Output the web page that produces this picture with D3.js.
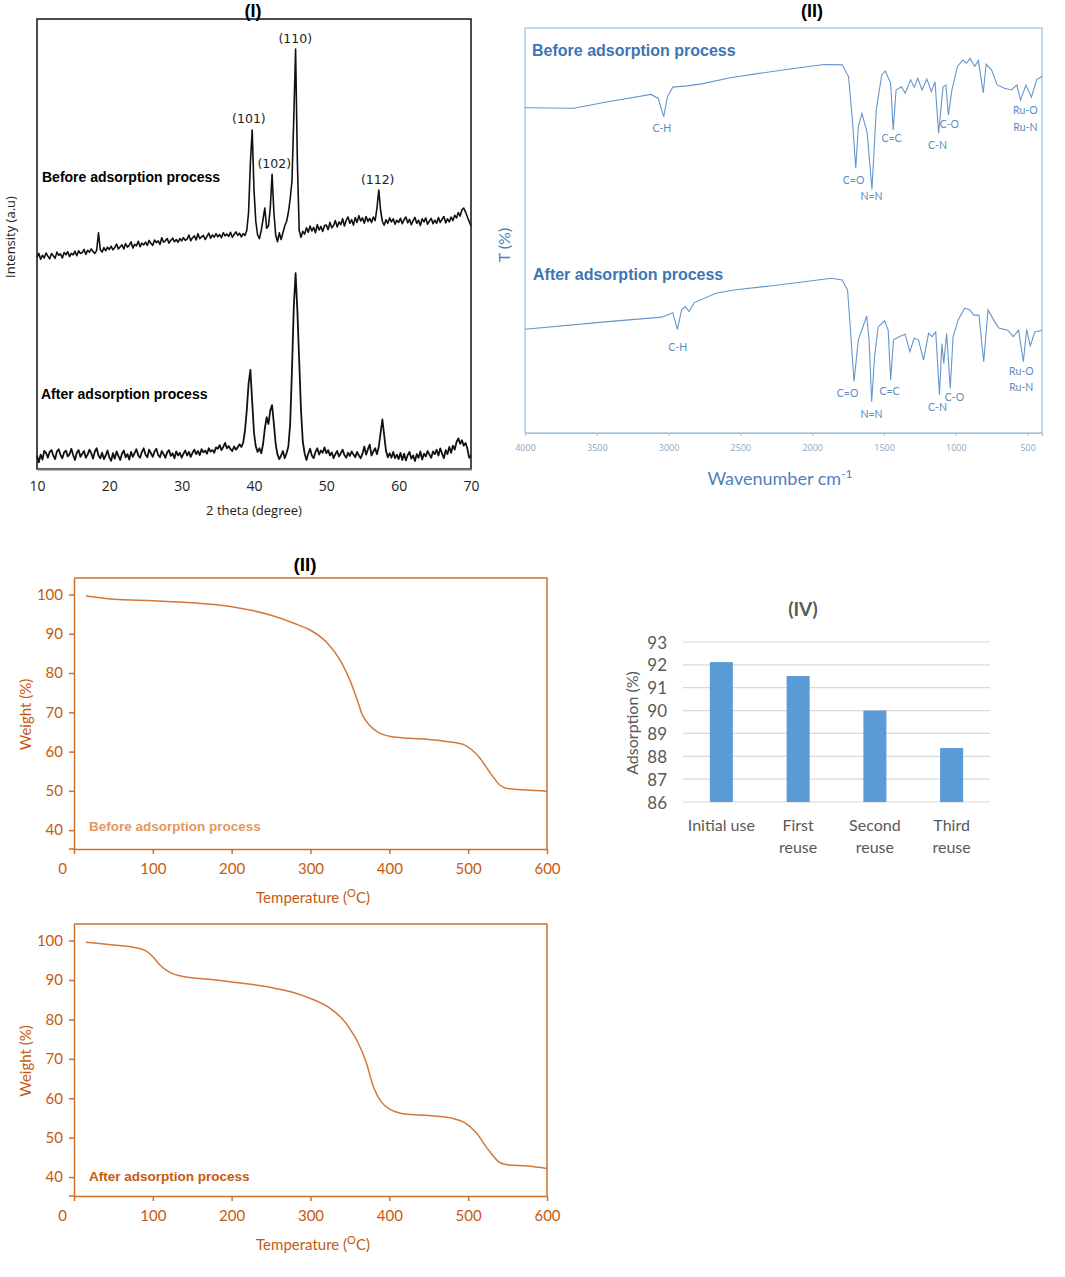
<!DOCTYPE html>
<html lang="en">
<head>
<meta charset="UTF-8">
<title>Characterisation panels</title>
<script src="https://cdnjs.cloudflare.com/ajax/libs/d3/7.8.5/d3.min.js"></script>
<style>
  body { margin: 0; background: #fff; }
  svg text { font-family: "Open Sans", sans-serif; }
</style>
</head>
<body>
<div id="root"></div>
<script>
// ---------- (I) XRD, 2 theta grid every 0.25 degree from 10 to 70 ----------
const xrdTheta = d3.range(241).map(i => 10 + i * 0.25)
const xrdBefore = [
  47.0,47.9,46.6,47.5,46.9,48.0,47.3,46.7,47.9,47.4,46.8,48.2,47.5,47.8,46.9,48.1,47.6,48.3,47.2,47.9,
  47.6,48.4,47.4,48.5,47.9,48.1,48.8,47.7,48.6,48.2,48.9,48.3,47.9,48.6,52.5,48.7,48.2,49.2,48.5,49.3,
  48.8,49.5,48.7,49.2,50.0,48.9,49.4,49.8,48.9,50.1,49.3,49.7,50.5,49.1,49.9,49.6,50.6,49.4,50.2,49.8,
  50.4,49.7,50.8,50.1,49.7,50.9,50.3,50.7,49.9,51.4,50.4,50.7,51.2,50.2,50.8,51.3,50.5,51.0,50.4,51.2,
  50.7,51.4,50.8,51.1,52.0,50.7,51.4,51.8,50.9,52.3,51.2,51.6,51.9,51.0,51.7,52.4,51.3,52.0,51.5,52.3,
  51.6,52.1,51.4,52.5,51.8,52.2,51.7,52.6,51.5,52.1,52.7,51.9,52.4,51.6,52.3,51.9,53.0,57.0,68.0,75.3,
  62.0,55.0,52.0,51.2,53.0,55.5,58.0,53.5,54.0,58.0,65.5,57.0,52.0,50.5,52.5,51.0,52.5,54.0,55.0,57.0,
  60.0,64.0,78.0,93.3,68.0,53.0,51.5,52.8,52.2,53.6,52.6,54.0,52.9,53.7,52.5,54.3,53.1,53.9,52.8,54.1,
  54.2,53.2,54.8,53.6,54.1,55.2,53.8,54.9,54.3,55.6,54.0,55.3,56.0,54.6,55.4,54.2,55.9,54.8,56.3,55.1,
  55.8,54.6,56.1,55.0,55.7,54.8,56.0,55.2,58.0,62.0,57.5,55.0,54.2,55.4,54.6,55.8,54.9,55.6,54.4,55.3,
  54.8,55.7,54.5,55.4,56.0,54.7,55.5,54.3,55.2,55.9,54.6,55.3,54.1,55.6,54.9,55.8,54.4,55.1,55.7,54.5,
  55.3,54.6,55.9,54.8,55.5,56.1,54.7,55.6,54.9,56.0,55.2,56.4,55.8,57.0,56.2,57.6,58.0,57.1,56.0,55.0,
  54.0
]
const xrdAfter = [
  3.0,1.5,3.2,2.1,4.0,3.6,2.5,3.8,4.2,3.0,2.2,3.9,4.4,3.1,2.4,3.7,4.1,2.8,3.3,4.5,
  3.1,2.0,3.6,4.2,2.7,3.4,4.0,2.5,3.2,4.3,3.5,2.3,3.9,4.6,3.0,2.4,3.6,2.2,3.0,4.1,
  2.6,1.8,3.5,2.3,3.9,2.9,2.0,3.4,4.1,2.6,3.3,2.1,3.8,2.7,3.6,4.4,3.0,2.5,3.8,4.6,
  3.2,2.6,4.3,3.5,2.7,3.9,4.5,3.1,2.6,4.0,3.3,2.5,3.7,4.2,2.9,3.5,2.4,3.9,3.0,3.6,
  2.5,3.4,4.1,3.0,3.8,2.7,3.6,4.3,3.3,4.0,3.1,4.4,3.7,4.1,3.4,4.6,3.9,4.2,3.6,4.8,
  4.5,5.3,4.2,4.9,5.8,4.6,5.1,4.4,4.0,5.0,4.3,4.8,5.5,4.9,5.8,8.5,13.0,19.0,22.0,15.0,
  8.0,5.0,3.8,4.6,3.5,5.5,9.0,11.5,10.0,13.0,14.2,10.0,5.5,3.2,2.2,3.0,4.0,2.4,3.5,5.0,
  10.0,22.0,36.0,43.5,35.0,24.0,13.0,6.0,3.5,2.0,3.4,4.5,3.0,2.4,3.8,4.6,3.2,4.1,3.6,4.8,
  3.5,4.2,3.0,3.7,2.4,3.3,4.0,2.8,3.5,4.3,3.1,2.5,3.6,2.9,3.9,3.2,2.6,3.8,3.0,2.4,
  3.4,5.0,3.2,4.4,5.4,3.0,3.9,4.6,3.3,5.0,8.0,11.0,7.5,4.0,2.6,3.5,2.5,3.8,2.4,3.2,
  2.2,3.6,2.0,3.4,1.9,3.1,3.8,2.3,3.0,1.8,3.3,2.5,3.9,2.1,3.4,2.8,4.0,3.2,2.5,3.9,
  3.3,4.3,3.0,4.6,3.4,2.4,4.2,3.3,4.9,3.6,5.2,4.3,6.0,6.8,5.6,6.4,5.2,5.8,4.5,2.5,
  3.0
]
const xrdTicks = [10, 20, 30, 40, 50, 60, 70]
const xrdPeakText = ['(101)', '(102)', '(110)', '(112)']
const xrdPeakTheta = [39.3, 42.8, 45.7, 57.1]
const xrdPeakValue = [78, 68, 95.6, 64.4]

// ---------- (II) FTIR ----------
const ftirBeforeWn = [4000,3661,3423,3122,3072,3034,3009,2971,2871,2771,2570,2369,2168,1917,1792,1747,1722,1697,1679,1654,
  1617,1584,1554,1516,1491,1454,1436,1416,1378,1353,1315,1290,1265,1235,1202,1170,1145,1120,1089,1069,
  1052,1027,989,951,926,901,869,843,809,789,751,713,663,613,575,550,512,474,437,400]
const ftirBeforeT = [80.3,80.2,81.8,83.6,82.6,78.1,83.0,85.4,85.7,86.2,87.7,88.8,89.8,91.0,90.9,88.0,78.1,65.4,75.6,78.9,
  74.1,60.2,79.8,88.4,89.4,86.4,74.8,84.7,85.5,83.9,87.2,85.4,87.6,84.7,87.4,84.3,86.7,74.0,85.5,85.9,
  78.5,84.7,90.5,92.1,91.3,92.5,90.5,92.0,84.0,91.1,89.6,86.0,85.1,84.7,85.9,82.2,85.9,82.9,87.2,88.1]
const ftirAfterWn = [4000,3423,3047,2971,2939,2909,2884,2858,2821,2670,2545,2294,2043,1867,1792,1754,1737,1709,1679,1621,
  1604,1586,1566,1541,1496,1471,1454,1434,1391,1353,1320,1290,1260,1225,1190,1165,1140,1114,1097,1084,
  1064,1039,1019,984,939,901,876,839,806,776,743,701,638,600,563,530,507,482,449,400]
const ftirAfterT = [25.6,27.5,28.6,29.7,25.6,30.4,31.2,30.0,32.2,34.5,35.3,36.3,37.4,38.2,37.8,35.3,27.1,12.7,23.0,28.9,
  23.0,7.7,18.8,26.2,27.7,25.4,13.1,23.0,23.8,24.4,20.1,23.4,23.0,18.0,24.6,23.8,25.0,9.4,22.1,17.2,
  24.6,11.0,23.8,27.9,30.8,30.4,29.1,29.1,17.6,30.4,28.3,25.9,25.4,23.8,25.4,17.6,25.6,21.5,25.0,25.3]
const ftirTicks = [4000, 3500, 3000, 2500, 2000, 1500, 1000, 500]
const bandText = ['C-H', 'C=O', 'N=N', 'C=C', 'C-N', 'C-O', 'Ru-O', 'Ru-N']
const bandBeforeWn = [3047, 1712, 1587, 1448, 1128, 1045, 516, 516]
const bandBeforeT = [75.3, 62.5, 58.5, 72.8, 71.1, 76.3, 79.8, 75.6]
const bandAfterWn = [2936, 1754, 1587, 1462, 1128, 1010, 544, 544]
const bandAfterT = [21.2, 9.9, 4.7, 10.4, 6.4, 8.9, 15.3, 11.4]

// ---------- (II) TGA ----------
const tgaBeforeTemp = [15,50,100,150,200,250,280,300,320,340,350,360,365,375,385,400,425,450,475,495,505,515,530,540,550,575,600]
const tgaBeforeWeight = [99.6,98.8,98.4,97.9,96.9,94.7,92.6,90.9,87.9,82.4,78.2,72.7,69.7,66.7,65.0,63.9,63.4,63.1,62.5,61.7,
  60.4,58.3,54.0,51.5,50.6,50.2,49.9]
const tgaAfterTemp = [15,50,75,90,100,110,120,140,175,200,250,275,300,325,340,350,360,370,380,390,400,420,450,480,495,510,525,540,550,575,600]
const tgaAfterWeight = [99.6,98.9,98.3,97.5,95.9,93.6,92.1,90.8,90.1,89.5,88.1,87.0,85.3,82.8,80.2,77.6,74.2,69.5,62.8,59.0,
  57.3,56.0,55.6,54.9,53.9,51.3,47.1,43.7,43.1,42.8,42.2]
const tgaTempTicks = [0, 100, 200, 300, 400, 500, 600]
const tgaWeightTicks = [40, 50, 60, 70, 80, 90, 100]

// ---------- (IV) reuse ----------
const reuseCats = ['Initial use', 'First reuse', 'Second reuse', 'Third reuse']
const reuseLines = [['Initial use'], ['First', 'reuse'], ['Second', 'reuse'], ['Third', 'reuse']]
const reuseValues = [92.12, 91.51, 90.0, 88.36]

const svg = d3.select('#root')
  .append('svg')
  .attr('width', 1065)
  .attr('height', 1277)
  .style('background', '#fff')

// ===== panel I =====
const xX = d3.scaleLinear().domain([10, 70]).range([37, 471])
const xY = d3.scaleLinear().domain([0, 100]).range([469, 19])
const xrd = svg.append('g')

xrd.append('text').attr('x', 253).attr('y', 17).attr('text-anchor', 'middle')
  .style('font-family', '"Liberation Sans", Arial, sans-serif').style('font-weight', 'bold').style('font-size', '18px')
  .text('(I)')

const xrdLine = d3.line().x((d, i) => xX(xrdTheta[i])).y(d => xY(d))
xrd.append('path').attr('d', xrdLine(xrdBefore)).attr('fill', 'none').attr('stroke', '#111').attr('stroke-width', 1.6).attr('stroke-linejoin', 'round')
xrd.append('path').attr('d', xrdLine(xrdAfter)).attr('fill', 'none').attr('stroke', '#111').attr('stroke-width', 1.8).attr('stroke-linejoin', 'round')

xrd.append('rect').attr('x', 37).attr('y', 19).attr('width', 434).attr('height', 450)
  .attr('fill', 'none').attr('stroke', '#111').attr('stroke-width', 1.5)

const xrdAxis = xrd.append('g').attr('transform', 'translate(0,469)')
  .call(d3.axisBottom(xX).tickValues(xrdTicks).tickSize(0).tickPadding(12))
xrdAxis.select('.domain').attr('stroke', '#777').attr('stroke-width', 2.2)
xrdAxis.selectAll('text').style('font-size', '14px').attr('fill', '#222')

xrd.append('text').attr('x', 254).attr('y', 515).attr('text-anchor', 'middle').style('font-size', '13px').attr('fill', '#222')
  .text('2 theta (degree)')
xrd.append('text').attr('transform', 'translate(15,237) rotate(-90)').attr('text-anchor', 'middle')
  .style('font-size', '13px').attr('fill', '#222').text('Intensity (a.u)')

xrd.selectAll('.peak').data(xrdPeakText).join('text')
  .attr('x', (d, i) => xX(xrdPeakTheta[i])).attr('y', (d, i) => xY(xrdPeakValue[i]))
  .attr('text-anchor', 'middle').attr('dominant-baseline', 'central')
  .style('font-family', '"DejaVu Sans", sans-serif').style('font-size', '12.5px').attr('fill', '#222')
  .text(d => d)

xrd.append('text').attr('x', 42).attr('y', 182)
  .style('font-family', '"Liberation Sans", Arial, sans-serif').style('font-weight', 'bold').style('font-size', '14px')
  .text('Before adsorption process')
xrd.append('text').attr('x', 41).attr('y', 399)
  .style('font-family', '"Liberation Sans", Arial, sans-serif').style('font-weight', 'bold').style('font-size', '14px')
  .text('After adsorption process')

// ===== panel II, FTIR =====
const blue = '#4f81bd'
const fX = d3.scaleLinear().domain([4000, 400]).range([525, 1042])
const fY = d3.scaleLinear().domain([0, 100]).range([433, 28])
const ftir = svg.append('g')

ftir.append('text').attr('x', 812).attr('y', 17).attr('text-anchor', 'middle')
  .style('font-family', '"Liberation Sans", Arial, sans-serif').style('font-weight', 'bold').style('font-size', '18px')
  .text('(II)')

ftir.append('rect').attr('x', 525).attr('y', 28).attr('width', 517).attr('height', 405)
  .attr('fill', 'none').attr('stroke', '#9dbfe0').attr('stroke-width', 1.2)

const ftirLine = d3.line().x(d => fX(d[0])).y(d => fY(d[1]))
ftir.append('path').attr('d', ftirLine(d3.zip(ftirBeforeWn, ftirBeforeT)))
  .attr('fill', 'none').attr('stroke', '#6496cc').attr('stroke-width', 1.1)
ftir.append('path').attr('d', ftirLine(d3.zip(ftirAfterWn, ftirAfterT)))
  .attr('fill', 'none').attr('stroke', '#6496cc').attr('stroke-width', 1.1)

const ftirAxis = ftir.append('g').attr('transform', 'translate(0,433)')
  .call(d3.axisBottom(fX).tickValues(ftirTicks).tickSize(3).tickPadding(9).tickFormat(d3.format('d')))
ftirAxis.select('.domain').attr('stroke', '#9dbfe0')
ftirAxis.selectAll('line').attr('stroke', '#9dbfe0')
ftirAxis.selectAll('text').style('font-size', '9px').attr('fill', '#8aa6c6')

const bandGroups = [[bandBeforeWn, bandBeforeT], [bandAfterWn, bandAfterT]]
bandGroups.forEach(([wn, t]) => {
  ftir.append('g').selectAll('text').data(bandText).join('text')
    .attr('x', (d, i) => fX(wn[i])).attr('y', (d, i) => fY(t[i]))
    .attr('text-anchor', 'middle').attr('dominant-baseline', 'central')
    .style('font-family', 'Lato, sans-serif').style('font-size', '10.5px').attr('fill', '#5a8cc4')
    .text(d => d)
})

ftir.append('text').attr('x', 532).attr('y', 56)
  .style('font-family', '"Liberation Sans", Arial, sans-serif').style('font-weight', 'bold').style('font-size', '16px')
  .attr('fill', '#3f74b4').text('Before adsorption process')
ftir.append('text').attr('x', 533).attr('y', 280)
  .style('font-family', '"Liberation Sans", Arial, sans-serif').style('font-weight', 'bold').style('font-size', '16px')
  .attr('fill', '#3f74b4').text('After adsorption process')

const wnLabel = ftir.append('text').attr('x', 780).attr('y', 485).attr('text-anchor', 'middle')
  .style('font-family', 'Lato, sans-serif').style('font-size', '18px').attr('fill', blue)
wnLabel.append('tspan').text('Wavenumber cm')
wnLabel.append('tspan').attr('dy', -7).style('font-size', '12px').text('-1')

ftir.append('text').attr('transform', 'translate(510,245) rotate(-90)').attr('text-anchor', 'middle')
  .style('font-family', 'Lato, sans-serif').style('font-size', '16px').attr('fill', blue).text('T (%)')

// ===== panel II, TGA =====
const orange = '#c55a11'
function drawTGA(temps, weights, top, bottom, label, labelColor, labelY) {
  const g = svg.append('g')
  const x = d3.scaleLinear().domain([0, 600]).range([74, 547])
  const y = d3.scaleLinear().domain([35.2, 104.2]).range([bottom, top])

  g.append('path').attr('d', `M74,${top}H547V${bottom}`).attr('fill', 'none').attr('stroke', '#d0702c').attr('stroke-width', 1.5)

  const ya = g.append('g').attr('transform', 'translate(74,0)')
    .call(d3.axisLeft(y).tickValues(tgaWeightTicks).tickSize(5).tickSizeOuter(0).tickPadding(6))
  const xa = g.append('g').attr('transform', `translate(0,${bottom})`)
    .call(d3.axisBottom(x).tickValues(tgaTempTicks).tickSize(5).tickSizeOuter(0).tickPadding(9))
  g.append('line').attr('x1', 69).attr('x2', 74).attr('y1', bottom).attr('y2', bottom).attr('stroke', '#d0702c').attr('stroke-width', 1.5)
  ;[ya, xa].forEach(a => {
    a.selectAll('.domain, line').attr('stroke', '#d0702c').attr('stroke-width', 1.5)
    a.selectAll('text').style('font-family', 'Lato, sans-serif').style('font-size', '15px').attr('fill', orange)
  })
  xa.selectAll('text').filter(d => d === 0).attr('dx', -12)

  const line = d3.line().x(d => x(d[0])).y(d => y(d[1])).curve(d3.curveMonotoneX)
  g.append('path').attr('d', line(d3.zip(temps, weights))).attr('fill', 'none').attr('stroke', '#d4773a').attr('stroke-width', 1.5)

  g.append('text').attr('transform', `translate(31,${(top + bottom) / 2 + 1}) rotate(-90)`).attr('text-anchor', 'middle')
    .style('font-family', 'Lato, sans-serif').style('font-size', '15px').attr('fill', orange).text('Weight (%)')

  const t = g.append('text').attr('x', 313).attr('y', bottom + 54).attr('text-anchor', 'middle')
    .style('font-family', 'Lato, sans-serif').style('font-size', '15px').attr('fill', orange)
  t.append('tspan').text('Temperature (')
  t.append('tspan').attr('dy', -6).style('font-size', '11px').text('O')
  t.append('tspan').attr('dy', 6).text('C)')

  g.append('text').attr('x', 89).attr('y', labelY)
    .style('font-family', '"Liberation Sans", Arial, sans-serif').style('font-weight', 'bold').style('font-size', '13.5px')
    .attr('fill', labelColor).text(label)
}

svg.append('text').attr('x', 305).attr('y', 571).attr('text-anchor', 'middle')
  .style('font-family', '"Liberation Sans", Arial, sans-serif').style('font-weight', 'bold').style('font-size', '19px')
  .text('(II)')
drawTGA(tgaBeforeTemp, tgaBeforeWeight, 578, 849, 'Before adsorption process', '#e3975f', 831)
drawTGA(tgaAfterTemp, tgaAfterWeight, 924, 1196, 'After adsorption process', '#c55a11', 1181)

// ===== panel IV =====
const grey = '#595959'
const bX = d3.scaleBand().domain(reuseCats).range([683, 990]).paddingInner(0.7).paddingOuter(0.35)
const bY = d3.scaleLinear().domain([86, 93]).range([802, 642])
const bar = svg.append('g')

bar.append('text').attr('x', 803).attr('y', 616).attr('text-anchor', 'middle')
  .style('font-family', 'Lato, sans-serif').style('font-weight', 'bold').style('font-size', '19px')
  .attr('fill', grey).text('(IV)')

bar.selectAll('.grid').data(bY.ticks(7)).join('line')
  .attr('x1', 683).attr('x2', 990).attr('y1', d => bY(d)).attr('y2', d => bY(d))
  .attr('stroke', '#d9d9d9').attr('stroke-width', 1.2)

bar.selectAll('.ylab').data(bY.ticks(7)).join('text')
  .attr('x', 667).attr('y', d => bY(d)).attr('text-anchor', 'end').attr('dominant-baseline', 'central')
  .style('font-family', 'Lato, sans-serif').style('font-size', '17px').attr('fill', grey).text(d => d)

bar.selectAll('rect').data(reuseValues).join('rect')
  .attr('x', (d, i) => bX(reuseCats[i])).attr('width', bX.bandwidth())
  .attr('y', d => bY(d)).attr('height', d => bY(86) - bY(d))
  .attr('fill', '#5b9bd5')

reuseLines.forEach((lines, i) => {
  const t = bar.append('text').attr('text-anchor', 'middle')
    .style('font-family', 'Lato, sans-serif').style('font-size', '16px').attr('fill', grey)
  lines.forEach((s, j) => {
    t.append('tspan').attr('x', bX(reuseCats[i]) + bX.bandwidth() / 2).attr('y', 831 + j * 22).text(s)
  })
})

bar.append('text').attr('transform', 'translate(638,723) rotate(-90)').attr('text-anchor', 'middle')
  .style('font-family', 'Lato, sans-serif').style('font-size', '16px').attr('fill', grey).text('Adsorption (%)')
</script>
</body>
</html>
